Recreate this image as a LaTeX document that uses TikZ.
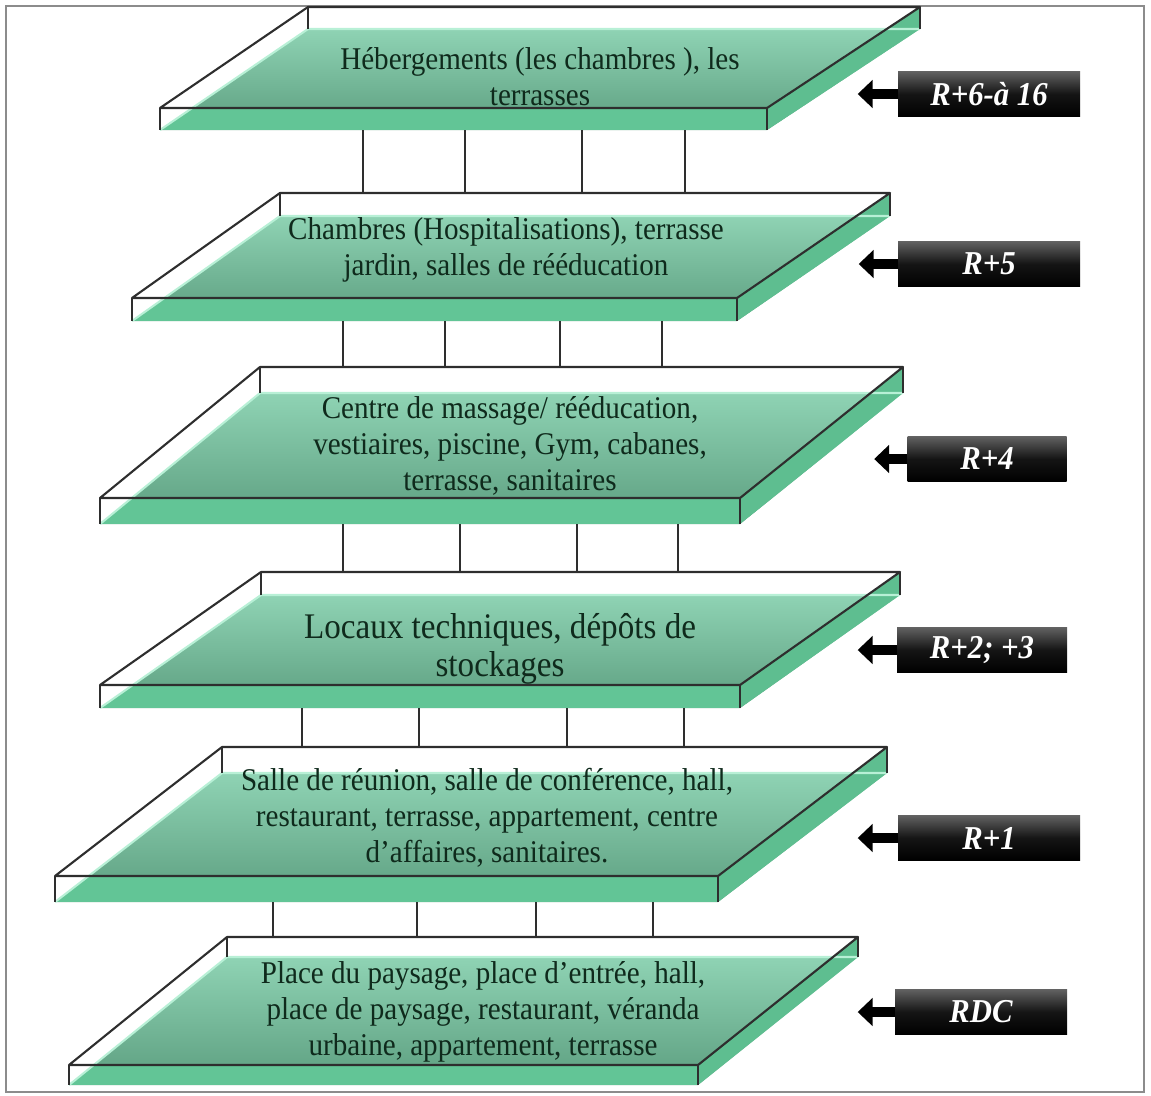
\documentclass[tikz,border=0pt]{standalone}
\usepackage{fontspec}
\setmainfont{Liberation Serif}[FakeStretch=0.92]
\usepackage{tikz}
\usetikzlibrary{arrows.meta,positioning}
\definecolor{slabhi}{HTML}{8FD3B4}
\definecolor{slabmid}{HTML}{4F8D71}
\definecolor{slablo}{HTML}{5C9E7F}
\definecolor{slabfront}{HTML}{62C596}
\definecolor{slabside}{HTML}{5EBE90}
\definecolor{slabglint}{HTML}{B8F0D6}
\definecolor{slabink}{HTML}{0F2A1C}
\definecolor{edgegray}{HTML}{2E2E2E}
\tikzstyle{slab top}=[top color=slabhi, middle color=slabmid, bottom color=slablo]
\tikzstyle{slab front}=[fill=slabfront]
\tikzstyle{slab side}=[fill=slabside]
\tikzstyle{slab glint}=[slabglint, line width=1.2pt]
\tikzstyle{slab edge}=[edgegray, line width=1.2pt, line join=round]
\tikzstyle{post}=[edgegray, line width=1.1pt]
\tikzstyle{slab text}=[align=center, text=slabink, font=\fontsize{18}{20.5}\selectfont]
\tikzstyle{tag}=[top color=black!62, bottom color=black, middle color=black!92, text=white,
  minimum width=3.64cm, minimum height=0.9cm, inner sep=0pt,
  font=\fontsize{19}{20}\selectfont\bfseries\itshape]
\tikzstyle{tag arrow}=[line width=0.2cm, -{Triangle[length=0.3cm,width=0.55cm]}]
% one floor slab: name, top-left, top-right, bottom-left, bottom-right, thickness
\newcommand{\floorslab}[6]{%
  \coordinate (#1tl) at #2; \coordinate (#1tr) at #3;
  \coordinate (#1bl) at #4; \coordinate (#1br) at #5;
  \path (#1tl) ++(0,#6) coordinate (#1TL) (#1tr) ++(0,#6) coordinate (#1TR)
        (#1bl) ++(0,#6) coordinate (#1BL) (#1br) ++(0,#6) coordinate (#1BR);
  \shade[slab top] (#1TL) -- (#1TR) -- (#1BR) -- (#1BL) -- cycle;
  \begin{scope}
    \clip (#1TL) -- (#1TR) -- (#1BR) -- (#1BL) -- cycle;
    \fill[slab front] (#1bl) -- (#1br) -- (#1BR) -- (#1BL) -- cycle;
  \end{scope}
  \fill[slab side] (#1br) -- (#1tr) -- (#1TR) -- (#1BR) -- cycle;
  \draw[slab glint] (#1BL) -- (#1TL) -- (#1TR);
  \draw[slab edge] (#1tl) -- (#1tr) -- (#1br) -- (#1bl) -- cycle;
  \draw[slab edge] (#1tl) -- (#1TL) (#1tr) -- (#1TR) (#1bl) -- (#1BL) (#1br) -- (#1BR);
}

\begin{document}
\begin{tikzpicture}[x=0.02cm, y=-0.02cm]

  \useasboundingbox (0,0) rectangle (1151,1095);
  \draw[black!45, line width=1pt] (6,6) rectangle (1144,1092);

  % slabs, top to bottom
  \floorslab{fr6}{(308,7)}{(920,7)}{(160,108)}{(767,108)}{22}
  \floorslab{fr5}{(280,193)}{(890,193)}{(132,298)}{(737,298)}{23}
  \floorslab{fr4}{(260,367)}{(903,367)}{(100,498)}{(740,498)}{26}
  \floorslab{fr23}{(261,572)}{(900,572)}{(100,685)}{(740,685)}{23}
  \floorslab{fr1}{(222,747)}{(887,747)}{(55,876)}{(718,876)}{26}
  \floorslab{frdc}{(227,937)}{(858,937)}{(69,1065)}{(698,1065)}{20}

  % posts between the slabs
  \coordinate (k61) at (363,0); \coordinate (k62) at (465,0);
  \coordinate (k63) at (582,0); \coordinate (k64) at (685,0);
  \draw[post] (k61 |- fr6BL) -- (k61 |- fr5tl);
  \draw[post] (k62 |- fr6BL) -- (k62 |- fr5tl);
  \draw[post] (k63 |- fr6BL) -- (k63 |- fr5tl);
  \draw[post] (k64 |- fr6BL) -- (k64 |- fr5tl);

  \coordinate (k51) at (343,0); \coordinate (k52) at (445,0);
  \coordinate (k53) at (560,0); \coordinate (k54) at (662,0);
  \draw[post] (k51 |- fr5BL) -- (k51 |- fr4tl);
  \draw[post] (k52 |- fr5BL) -- (k52 |- fr4tl);
  \draw[post] (k53 |- fr5BL) -- (k53 |- fr4tl);
  \draw[post] (k54 |- fr5BL) -- (k54 |- fr4tl);

  \coordinate (k41) at (343,0); \coordinate (k42) at (460,0);
  \coordinate (k43) at (577,0); \coordinate (k44) at (678,0);
  \draw[post] (k41 |- fr4BL) -- (k41 |- fr23tl);
  \draw[post] (k42 |- fr4BL) -- (k42 |- fr23tl);
  \draw[post] (k43 |- fr4BL) -- (k43 |- fr23tl);
  \draw[post] (k44 |- fr4BL) -- (k44 |- fr23tl);

  \coordinate (k31) at (302,0); \coordinate (k32) at (419,0);
  \coordinate (k33) at (567,0); \coordinate (k34) at (684,0);
  \draw[post] (k31 |- fr23BL) -- (k31 |- fr1tl);
  \draw[post] (k32 |- fr23BL) -- (k32 |- fr1tl);
  \draw[post] (k33 |- fr23BL) -- (k33 |- fr1tl);
  \draw[post] (k34 |- fr23BL) -- (k34 |- fr1tl);

  \coordinate (k11) at (273,0); \coordinate (k12) at (417,0);
  \coordinate (k13) at (536,0); \coordinate (k14) at (653,0);
  \draw[post] (k11 |- fr1BL) -- (k11 |- frdctl);
  \draw[post] (k12 |- fr1BL) -- (k12 |- frdctl);
  \draw[post] (k13 |- fr1BL) -- (k13 |- frdctl);
  \draw[post] (k14 |- fr1BL) -- (k14 |- frdctl);

  % what is on each floor
  \node[slab text] (txt6) at (540,77) {Hébergements (les chambres ), les\\terrasses};
  \node[slab text] (txt5) at (506,250) {Chambres (Hospitalisations), terrasse\\jardin, salles de rééducation};
  \node[slab text] (txt4) at (510,446) {Centre de massage/ rééducation,\\vestiaires, piscine, Gym, cabanes,\\terrasse, sanitaires};
  \node[slab text, font=\fontsize{20.5}{22}\selectfont] (txt23) at (500,649) {Locaux techniques, dépôts de\\stockages};
  \node[slab text] (txt1) at (487,818) {Salle de réunion, salle de conférence, hall,\\restaurant, terrasse, appartement, centre\\d’affaires, sanitaires.};
  \node[slab text] (txtdc) at (483,1012) {Place du paysage, place d’entrée, hall,\\place de paysage, restaurant, véranda\\urbaine, appartement, terrasse};

  % floor tags
  \node[tag] (tag6) at (989,94) {R+6-à 16};
  \node[tag] (tag5) at (989,264) {R+5};
  \node[tag, minimum width=3.18cm] (tag4) at (987,459) {R+4};
  \node[tag, minimum width=3.4cm] (tag23) at (982,650) {R+2; +3};
  \node[tag] (tag1) at (989,838) {R+1};
  \node[tag, minimum width=3.44cm] (tagdc) at (981,1012) {RDC};

  \coordinate[left=0.8cm of tag6] (tip6);
  \coordinate[left=0.78cm of tag5] (tip5);
  \coordinate[left=0.66cm of tag4] (tip4);
  \coordinate[left=0.78cm of tag23] (tip23);
  \coordinate[left=0.8cm of tag1] (tip1);
  \coordinate[left=0.74cm of tagdc] (tipdc);

  \draw[tag arrow] (tag6) -- (tip6);
  \draw[tag arrow] (tag5) -- (tip5);
  \draw[tag arrow] (tag4) -- (tip4);
  \draw[tag arrow] (tag23) -- (tip23);
  \draw[tag arrow] (tag1) -- (tip1);
  \draw[tag arrow] (tagdc) -- (tipdc);

\end{tikzpicture}
\end{document}
